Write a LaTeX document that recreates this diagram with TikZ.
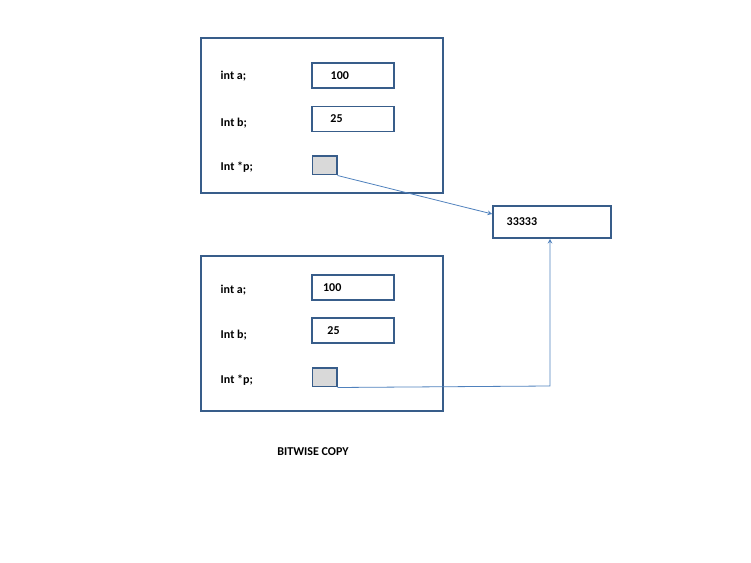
\documentclass[tikz,border=0pt]{standalone}
\usepackage{fontspec}
\setmainfont{Carlito}
\definecolor{bordcol}{RGB}{56,93,138}
\definecolor{arrcol}{RGB}{79,129,189}
\definecolor{ptrcol}{RGB}{217,217,217}
\tikzset{every picture/.style={x=0.75pt,y=-0.75pt}}
\tikzset{frame/.style={draw=bordcol,line width=1.2pt}}
\tikzset{val/.style={draw=bordcol,line width=1.2pt,minimum width=61.5pt,minimum height=18.5pt,inner sep=0pt}}
\tikzset{ptr/.style={draw=bordcol,line width=1pt,fill=ptrcol,minimum width=18.5pt,minimum height=14pt,inner sep=0pt}}
\tikzset{lbl/.style={anchor=west,font=\bfseries\small}}
\tikzset{link/.style={draw=arrcol,line width=0.6pt,-stealth}}

\begin{document}
\begin{tikzpicture}
\useasboundingbox (0,0) rectangle (751,563);

\draw [frame] (201,38) rectangle (443,193);
\draw [frame] (201,256) rectangle (443,411);

\node [lbl] (a1) at (216,76) {int a;};
\node [lbl] (b1) at (216,123) {Int b;};
\node [lbl] (p1) at (216,167) {Int *p;};
\node [val] (va1) at (353,75.5) {};
\node [lbl] at (326,75.5) {100};
\node [val] (vb1) at (353,119) {};
\node [lbl] at (323,119) {~25};
\node [ptr] (vp1) at (324.5,165.5) {};

\node [lbl] (a2) at (216,290) {int a;};
\node [lbl] (b2) at (216,335) {Int b;};
\node [lbl] (p2) at (216,380) {Int *p;};
\node [val] (va2) at (353,287.5) {};
\node [lbl] at (313,287.5) {~~100};
\node [val] (vb2) at (353,330.5) {};
\node [lbl] at (320,330.5) {~25};
\node [ptr] (vp2) at (324.5,377.5) {};

\node [val,minimum width=88.5pt,minimum height=24pt] (heap) at (552,222) {};
\node [lbl] at (502,222) {33333};

\draw [link] (vp1.south east) -- (heap.west |- 0,214);
\coordinate (bend) at (550,386);
\draw [link] (vp2.south east) -- (bend) -- (heap.south -| bend);

\node [font=\bfseries\small] (title) at (313,452) {BITWISE COPY};
\end{tikzpicture}
\end{document}
